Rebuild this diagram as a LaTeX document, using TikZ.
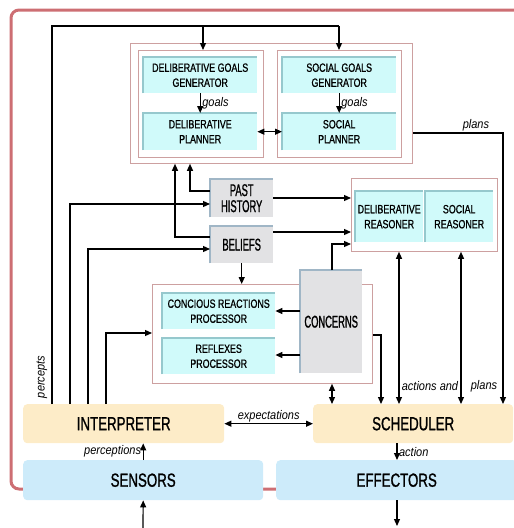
\documentclass[tikz,border=0pt]{standalone}
\usepackage{fontspec}
\setmainfont{Liberation Sans}
\newfontfamily\nar[FakeStretch=0.74,FakeBold=0.9]{Liberation Sans}
\newfontfamily\bigfnt[FakeStretch=0.7,FakeBold=1.1]{Liberation Sans}
\newfontfamily\cnd[FakeStretch=0.55,FakeBold=1.0]{Liberation Sans}
\newfontfamily\lab[FakeStretch=0.88]{Liberation Sans}
\usetikzlibrary{arrows.meta}
\definecolor{redf}{RGB}{205,110,115}
\definecolor{pinkf}{RGB}{205,160,160}
\definecolor{cyanf}{RGB}{208,250,250}
\definecolor{cyane}{RGB}{150,200,205}
\definecolor{greyf}{RGB}{226,226,228}
\definecolor{greye}{RGB}{160,182,198}
\definecolor{orangef}{RGB}{253,236,200}
\definecolor{bluef}{RGB}{205,235,250}
\newcommand\bevel[2]{\draw[#2,line width=1.6pt] (#1.south west) -- (#1.north west) -- (#1.north east);}
\begin{document}
\begin{tikzpicture}[x=1pt,y=-1pt,
  box/.style={draw=none, inner sep=0pt, align=center, anchor=north west},
  cyanbox/.style={box, fill=cyanf, font=\nar\fontsize{12}{15}\selectfont},
  greybox/.style={box, fill=greyf, font=\cnd\fontsize{17}{16}\selectfont},
  framebox/.style={draw=pinkf, line width=0.8pt, inner sep=0pt, anchor=north west},
  bigbox/.style={box, rounded corners=4pt, font=\bigfnt\fontsize{19}{19}\selectfont},
  lbl/.style={font=\lab\itshape\fontsize{12.5}{12.5}\selectfont, inner sep=1.5pt},
  ln/.style={line width=1.2pt},
  arr/.style={line width=1.2pt, -{Triangle[length=7pt,width=6pt]}},
  darr/.style={line width=1.2pt, {Triangle[length=7pt,width=6pt]}-{Triangle[length=7pt,width=6pt]}}]
\useasboundingbox (0,0) rectangle (514,528);
\clip (0,0) rectangle (514,528);
% outer red frame
\draw[redf, line width=3pt, rounded corners=8pt] (11,10) rectangle (545,489);
% frames
\node[framebox, minimum width=282pt, minimum height=120pt] (upper) at (130,43) {};
\node[framebox, minimum width=125pt, minimum height=107pt] (dgframe) at (138,50) {};
\node[framebox, minimum width=124pt, minimum height=107pt] (sgframe) at (277,50) {};
\node[framebox, minimum width=146pt, minimum height=73pt] (reas) at (351,178) {};
\node[framebox, minimum width=220pt, minimum height=99pt] (lower) at (152,284) {};
% cyan boxes
\node[cyanbox, minimum width=114pt, minimum height=36pt] (dgg) at (143,57) {DELIBERATIVE GOALS\\GENERATOR};
\node[cyanbox, minimum width=114pt, minimum height=37pt] (dp) at (143,113) {DELIBERATIVE\\PLANNER};
\node[cyanbox, minimum width=114pt, minimum height=36pt] (sgg) at (282,57) {SOCIAL GOALS\\GENERATOR};
\node[cyanbox, minimum width=114pt, minimum height=37pt] (sp) at (282,113) {SOCIAL\\PLANNER};
\node[cyanbox, minimum width=68pt, minimum height=51pt] (dr) at (355,191) {DELIBERATIVE\\REASONER};
\node[cyanbox, minimum width=68pt, minimum height=51pt] (sr) at (425,191) {SOCIAL\\REASONER};
\node[cyanbox, minimum width=113pt, minimum height=36pt] (crp) at (162,293) {CONCIOUS REACTIONS\\PROCESSOR};
\node[cyanbox, minimum width=113pt, minimum height=36pt] (rp) at (162,338) {REFLEXES\\PROCESSOR};
\foreach \n in {dgg,dp,sgg,sp,dr,sr,crp,rp} {\bevel{\n}{cyane}}
% grey boxes
\node[greybox, minimum width=63pt, minimum height=38pt] (ph) at (210,179) {PAST\\HISTORY};
\node[greybox, minimum width=63pt, minimum height=37pt] (bel) at (210,226) {BELIEFS};
\node[greybox, minimum width=62pt, minimum height=103pt] (conc) at (300,270) {CONCERNS};
\foreach \n in {ph,bel,conc} {\bevel{\n}{greye}}
% big boxes
\node[bigbox, fill=orangef, minimum width=201pt, minimum height=39pt] (interp) at (23,404) {INTERPRETER};
\node[bigbox, fill=orangef, minimum width=200pt, minimum height=39pt] (sched) at (313,404) {SCHEDULER};
\node[bigbox, fill=bluef, minimum width=240pt, minimum height=40pt] (sensors) at (23,460) {SENSORS};
\node[bigbox, fill=bluef, minimum width=241pt, minimum height=40pt] (eff) at (276,460) {EFFECTORS};
% connectors
\coordinate (tl) at (52,26);
\coordinate (tr) at (339,26);
\draw[ln] (52,0 |- interp.north) -- (tl) -- (tr);
\draw[arr] (203,26) -- (203,0 |- dgframe.north);
\draw[arr] (tr) -- (tr |- sgframe.north);
\draw[arr] (dgg.south) -- node[lbl,right]{goals} (dp.north);
\draw[arr] (sgg.south) -- node[lbl,right]{goals} (sp.north);
\draw[darr] (dp.east) -- (sp.west);
\draw[arr] (upper.east |- 0,133) -- node[lbl,above,pos=0.7]{plans} (503,133) -- (503,0 |- sched.north);
\draw[arr] (ph.west |- 0,191) -- (190,191) -- (190,0 |- upper.south);
\draw[arr] (bel.west |- 0,237) -- (175,237) -- (175,0 |- upper.south);
\draw[arr] (70,0 |- interp.north) -- (70,204) -- (ph.west |- 0,204);
\draw[arr] (88,0 |- interp.north) -- (88,249) -- (bel.west |- 0,249);
\draw[arr] (106,0 |- interp.north) -- (106,333) -- (lower.west |- 0,333);
\draw[arr] (ph.east |- 0,198) -- (reas.west |- 0,198);
\draw[arr] (bel.east |- 0,232) -- (reas.west |- 0,232);
\draw[arr] (332,0 |- conc.north) -- (332,244) -- (reas.west |- 0,244);
\draw[arr] (bel.south) -- (bel.south |- lower.north);
\draw[arr] (conc.west |- 0,311) -- (crp.east |- 0,311);
\draw[arr] (conc.west |- 0,355) -- (rp.east |- 0,355);
\draw[arr] (lower.east |- 0,335) -- (381,335) -- (381,0 |- sched.north);
\draw[darr] (332,0 |- lower.south) -- (332,0 |- sched.north);
\draw[darr] (399,0 |- reas.south) -- (399,0 |- sched.north);
\draw[darr] (461,0 |- reas.south) -- (461,0 |- sched.north);
\node[lbl] (la) at (430,386) {actions and};
\node[lbl] (lp) at (484,386) {plans};
\node[lbl, rotate=90] (lpc) at (42,377) {percepts};
\draw[darr] (interp.east) -- node[lbl,above]{expectations} (sched.west);
\draw[arr] (sensors.north) -- node[lbl,left]{perceptions} (sensors.north |- interp.south);
\draw[arr] (397,0 |- sched.south) -- node[lbl,right]{action} (397,0 |- eff.north);
\coordinate (sin) at (143,528);
\coordinate (eout) at (397,526);
\draw[arr] (sin) -- (sensors.south);
\draw[arr] (397,0 |- eff.south) -- (eout);
\end{tikzpicture}
\end{document}
